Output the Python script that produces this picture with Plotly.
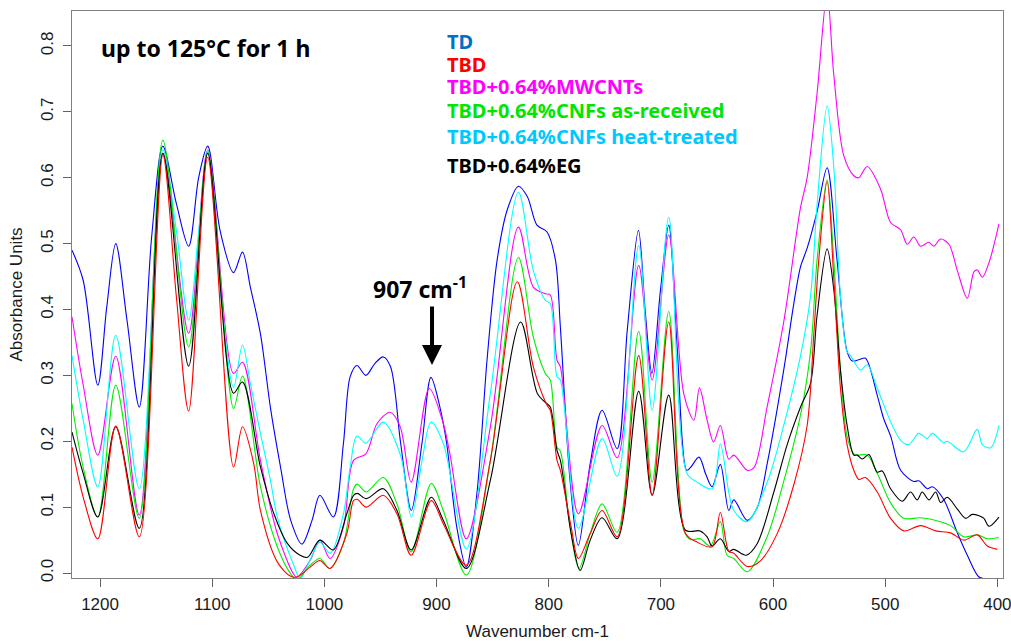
import plotly.graph_objects as go

# ---- spectra: wavenumber (cm-1) and absorbance ----
td_wn = [1225, 1215, 1202, 1194, 1186, 1176, 1165, 1154, 1144, 1132, 1121, 1112, 1104, 1093, 1081, 1073,
         1066, 1057, 1048, 1039, 1030, 1020, 1011, 1004, 992, 983, 977, 971, 963, 955, 947.5, 941, 932,
         922.5, 913, 905, 897, 891, 882, 873.5, 864, 855, 846, 837, 827, 819, 810.5, 801.6, 794, 789.6,
         781, 773.6, 763, 752.4, 739, 730, 720, 713.8, 708, 700.4, 693, 685.5, 677, 673.7, 666, 660,
         654.4, 647, 639.5, 635, 623, 614, 605, 590.5, 581.5, 575.5, 569.6, 560.7, 551.8, 543, 534,
         529.5, 523, 517.6, 507, 501.5, 495, 486.3, 474.5, 470, 462.5, 458, 448, 435.7, 426.8, 416.4,
         408, 398]
td_abs = [0.490, 0.444, 0.285, 0.404, 0.500, 0.384, 0.252, 0.510, 0.648, 0.561, 0.496, 0.601, 0.648, 0.520,
          0.456, 0.487, 0.434, 0.363, 0.250, 0.160, 0.080, 0.044, 0.080, 0.118, 0.085, 0.197, 0.298, 0.315,
          0.300, 0.318, 0.328, 0.313, 0.197, 0.095, 0.197, 0.297, 0.252, 0.197, 0.070, 0.009, 0.121, 0.323,
          0.475, 0.551, 0.587, 0.571, 0.528, 0.518, 0.475, 0.373, 0.141, 0.042, 0.166, 0.247, 0.189, 0.368,
          0.520, 0.394, 0.303, 0.429, 0.528, 0.343, 0.156, 0.160, 0.176, 0.150, 0.131, 0.165, 0.095, 0.111,
          0.080, 0.100, 0.168, 0.308, 0.409, 0.465, 0.493, 0.549, 0.615, 0.476, 0.336, 0.322, 0.324, 0.326,
          0.269, 0.235, 0.207, 0.156, 0.139, 0.140, 0.128, 0.131, 0.112, 0.061, 0.027, -0.006, -0.009, -0.009]

tbd_wn = [1225, 1215, 1202, 1186, 1165, 1144, 1132, 1121, 1104, 1081, 1073, 1063, 1057, 1042, 1030, 1024.5,
          1012.7, 1004, 995, 980, 974, 970.7, 962.7, 947.5, 935.3, 922.6, 904.7, 894, 873.5, 852, 828,
          813.7, 801.6, 798.6, 792.6, 789.6, 780, 773.6, 763, 752.4, 739, 719.8, 707.8, 693, 678, 667.8,
          654.4, 647, 639.5, 635, 623, 611, 596, 581.5, 569.6, 563.6, 559.2, 551.8, 545.9, 539.9, 534,
          528, 523.5, 517.6, 507.1, 495.2, 483.4, 468.5, 455, 441.7, 429.8, 417.9, 409, 400]
tbd_abs = [0.191, 0.115, 0.052, 0.223, 0.055, 0.634, 0.420, 0.246, 0.631, 0.161, 0.222, 0.166, 0.095, 0.017,
           -0.005, -0.006, 0.009, 0.019, 0.007, 0.060, 0.110, 0.112, 0.100, 0.118, 0.090, 0.027, 0.110, 0.075,
           0.012, 0.171, 0.442, 0.313, 0.255, 0.247, 0.171, 0.156, 0.070, 0.022, 0.060, 0.095, 0.055, 0.330,
           0.118, 0.381, 0.060, 0.047, 0.040, 0.092, 0.033, 0.030, 0.010, 0.019, 0.061, 0.134, 0.224, 0.364,
           0.476, 0.594, 0.448, 0.280, 0.195, 0.156, 0.142, 0.145, 0.123, 0.083, 0.064, 0.072, 0.064, 0.061,
           0.050, 0.058, 0.041, 0.036]

mwcnt_wn = [1225, 1215, 1202, 1186, 1165, 1144, 1121, 1104, 1081, 1073, 1057, 1042, 1027.6, 1024.5, 1012.7,
            1004, 995, 983, 974, 963, 953, 941.3, 932.4, 922.6, 906.5, 894, 888, 873.5, 852, 827, 813.7,
            803, 798.6, 792.6, 789.6, 773.6, 752.4, 739, 719.8, 707.8, 693, 679.6, 670.6, 665.6, 658.8,
            653, 647, 639.5, 635, 623, 617, 605.3, 590.5, 575.5, 569.6, 560.7, 551.8, 545.9, 536.9, 528,
            523.5, 516.1, 504.2, 495.2, 486.3, 480.4, 474.5, 468.5, 461.1, 456.6, 450.6, 443.2, 435.7,
            426.8, 420.9, 417.9, 413.4, 407.5, 398.6]
mwcnt_abs = [0.389, 0.285, 0.179, 0.329, 0.088, 0.637, 0.364, 0.642, 0.303, 0.320, 0.171, 0.060, -0.001,
             -0.006, 0.019, 0.050, 0.022, 0.070, 0.171, 0.181, 0.227, 0.244, 0.222, 0.138, 0.280, 0.227, 0.180,
             0.052, 0.222, 0.525, 0.434, 0.424, 0.422, 0.323, 0.313, 0.090, 0.224, 0.175, 0.467, 0.293, 0.513,
             0.272, 0.232, 0.281, 0.232, 0.199, 0.224, 0.173, 0.179, 0.156, 0.160, 0.252, 0.381, 0.555, 0.600,
             0.729, 0.880, 0.757, 0.633, 0.603, 0.600, 0.617, 0.583, 0.532, 0.521, 0.499, 0.510, 0.496, 0.502,
             0.496, 0.507, 0.499, 0.459, 0.417, 0.457, 0.460, 0.449, 0.471, 0.530]

cnf_ar_wn = [1225, 1215, 1202, 1186, 1165, 1144, 1121, 1104, 1081, 1073, 1057, 1042, 1030.5, 1024.5, 1012.7,
             1004, 995, 983, 974, 970.7, 962.7, 947.5, 935.3, 922.6, 904.7, 894, 873.5, 852, 827, 813.7, 803,
             798.6, 792.6, 789.6, 781, 773, 763, 752.4, 739, 719.8, 707.8, 693, 679.6, 673.7, 665, 656, 647,
             641, 635, 623, 605.3, 590.5, 575.5, 566.6, 560.7, 551.8, 545.9, 539.9, 534, 528, 525, 516, 507,
             495, 483.4, 468.5, 450.6, 441.7, 429.8, 417.9, 409, 398.6]
cnf_ar_abs = [0.257, 0.160, 0.085, 0.285, 0.083, 0.657, 0.343, 0.639, 0.250, 0.299, 0.131, 0.040, 0.000,
              -0.010, 0.012, 0.022, 0.007, 0.045, 0.128, 0.135, 0.123, 0.145, 0.105, 0.032, 0.136, 0.095,
              -0.003, 0.171, 0.479, 0.358, 0.303, 0.293, 0.191, 0.185, 0.070, 0.007, 0.060, 0.105, 0.062,
              0.367, 0.138, 0.397, 0.065, 0.051, 0.052, 0.041, 0.078, 0.027, 0.022, 0.002, 0.055, 0.139, 0.240,
              0.336, 0.476, 0.597, 0.476, 0.308, 0.207, 0.181, 0.179, 0.179, 0.151, 0.106, 0.083, 0.084, 0.078,
              0.072, 0.055, 0.058, 0.052, 0.054]

cnf_ht_wn = [1225, 1215, 1202, 1186, 1165, 1144, 1132, 1121, 1112, 1104, 1093, 1081, 1073, 1066, 1057, 1048,
             1042, 1028, 1021.6, 1012.7, 1004, 994.8, 983, 977, 971, 963, 947.5, 932, 922.5, 913, 905, 894,
             873.5, 852, 827, 813.7, 803, 798.6, 792.6, 789.6, 773.6, 752.4, 739, 719.8, 707.8, 693, 676.7,
             667.8, 654.4, 647, 639.5, 635, 623, 605, 590.5, 575.5, 566.6, 560.7, 551.8, 545.9, 539.9, 534,
             530.9, 522, 516, 507, 495, 486, 479, 470, 462.5, 458, 448, 444.7, 430, 418, 413.4, 406, 398.6]
cnf_ht_abs = [0.330, 0.232, 0.131, 0.361, 0.128, 0.642, 0.520, 0.384, 0.520, 0.642, 0.434, 0.282, 0.346,
              0.288, 0.212, 0.140, 0.085, 0.015, -0.008, 0.020, 0.047, 0.030, 0.090, 0.161, 0.208, 0.197,
              0.229, 0.178, 0.085, 0.170, 0.229, 0.197, 0.037, 0.273, 0.578, 0.459, 0.414, 0.409, 0.298,
              0.293, 0.068, 0.204, 0.147, 0.497, 0.247, 0.540, 0.151, 0.138, 0.128, 0.196, 0.123, 0.095,
              0.078, 0.139, 0.224, 0.330, 0.420, 0.560, 0.709, 0.617, 0.420, 0.336, 0.330, 0.308, 0.316,
              0.280, 0.229, 0.201, 0.195, 0.212, 0.204, 0.212, 0.198, 0.200, 0.184, 0.218, 0.195, 0.190, 0.224]

eg_wn = [1225, 1215, 1202, 1186, 1165, 1144, 1121, 1104, 1081, 1073, 1057, 1045, 1033, 1021.6, 1015, 1004,
         992, 980, 974, 970.7, 962.7, 947.5, 935.3, 922.6, 904.7, 894, 873.5, 852, 825, 810, 801.6, 798.6,
         792.6, 789.6, 780, 772, 763, 752.4, 739, 719.8, 707.8, 693, 678, 665, 658.8, 654.4, 647, 639.5, 635,
         624, 614.3, 599.3, 587.4, 575.5, 566.6, 560.7, 551.8, 545.9, 539.9, 534, 528, 525, 520.5, 514.6,
         507.1, 502.7, 495.2, 484.8, 477.4, 471.5, 467, 461, 455, 450.6, 444.7, 435.7, 428.3, 422.4, 416.4,
         412, 407.5, 398.6]
eg_abs = [0.214, 0.151, 0.085, 0.222, 0.068, 0.637, 0.314, 0.637, 0.273, 0.290, 0.161, 0.090, 0.045, 0.027,
          0.024, 0.050, 0.035, 0.090, 0.118, 0.121, 0.113, 0.128, 0.095, 0.035, 0.115, 0.080, 0.007, 0.141,
          0.381, 0.272, 0.257, 0.252, 0.186, 0.171, 0.060, 0.004, 0.050, 0.084, 0.052, 0.276, 0.118, 0.270,
          0.065, 0.064, 0.055, 0.041, 0.052, 0.033, 0.036, 0.027, 0.044, 0.123, 0.195, 0.252, 0.288, 0.392,
          0.492, 0.431, 0.308, 0.224, 0.179, 0.179, 0.173, 0.180, 0.153, 0.155, 0.128, 0.109, 0.123, 0.111,
          0.123, 0.111, 0.123, 0.107, 0.115, 0.097, 0.083, 0.089, 0.087, 0.083, 0.071, 0.085]

series = [
    ("TD", td_wn, td_abs, "#0000FF"),
    ("TBD+0.64%MWCNTs", mwcnt_wn, mwcnt_abs, "#FF00FF"),
    ("TBD+0.64%CNFs heat-treated", cnf_ht_wn, cnf_ht_abs, "#00FFFF"),
    ("TBD+0.64%CNFs as-received", cnf_ar_wn, cnf_ar_abs, "#00EE00"),
    ("TBD+0.64%EG", eg_wn, eg_abs, "#000000"),
    ("TBD", tbd_wn, tbd_abs, "#FF0000"),
]

# text legend: label and colour, top to bottom
legend_labels = ["TD", "TBD", "TBD+0.64%MWCNTs", "TBD+0.64%CNFs as-received",
                 "TBD+0.64%CNFs heat-treated", "TBD+0.64%EG"]
legend_colors = ["#0070C0", "#FF0000", "#FF00FF", "#00E600", "#00C8FF", "#000000"]
legend_y = [0.946, 0.905, 0.867, 0.824, 0.778, 0.727]

fig = go.Figure()
for name, wn, ab, col in series:
    fig.add_trace(go.Scatter(x=wn, y=ab, mode="lines", name=name,
                             line=dict(color=col, width=1.1, shape="spline", smoothing=0.9),
                             showlegend=False, hoverinfo="skip"))

axis_font = dict(family="Liberation Sans, Arial, sans-serif", size=17, color="#1a1a1a")
fig.update_xaxes(range=[1225, 395], tickmode="array", tickvals=[1200, 1100, 1000, 900, 800, 700, 600, 500, 400],
                 ticks="outside", ticklen=8, tickcolor="#606060", showline=True, linecolor="#808080",
                 linewidth=1, mirror=True, showgrid=False, zeroline=False, tickfont=axis_font,
                 ticklabeloverflow="allow", ticklabelstandoff=3, automargin=False,
                 title=dict(text="Wavenumber cm-1", font=axis_font, standoff=12))
fig.update_yaxes(range=[-0.0075, 0.853], tickmode="array", tickvals=[0, 0.1, 0.2, 0.3, 0.4, 0.5, 0.6, 0.7, 0.8],
                 ticktext=["0.0", "0.1", "0.2", "0.3", "0.4", "0.5", "0.6", "0.7", "0.8"],
                 tickangle=-90, ticks="outside", ticklen=8, tickcolor="#606060", showline=True,
                 linecolor="#808080", linewidth=1, mirror=True, showgrid=False, zeroline=False,
                 tickfont=axis_font, ticklabelstandoff=3, automargin=False,
                 title=dict(text="Absorbance Units", font=axis_font, standoff=11))

bold = "Noto Sans, Open Sans, sans-serif"
for lab, col, yy in zip(legend_labels, legend_colors, legend_y):
    fig.add_annotation(x=0.401, y=yy, xref="paper", yref="paper", text="<b>" + lab + "</b>",
                       showarrow=False, xanchor="left", yanchor="middle",
                       font=dict(family=bold, size=20, color=col))

fig.add_annotation(x=0.029, y=0.935, xref="paper", yref="paper", text="<b>up to 125°C for 1 h</b>",
                   showarrow=False, xanchor="left", yanchor="middle",
                   font=dict(family=bold, size=23, color="#000000"))

fig.add_annotation(x=0.3743, y=0.511, xref="paper", yref="paper", text="<b>907 cm<sup>-1</sup></b>",
                   showarrow=False, xanchor="center", yanchor="middle",
                   font=dict(family=bold, size=23, color="#000000"))
fig.add_annotation(x=0.3867, y=0.3757, xref="paper", yref="paper", text="", showarrow=True,
                   ax=0, ay=-60, arrowhead=2, arrowsize=1, arrowwidth=4, arrowcolor="#000000", standoff=0)

fig.update_layout(width=1011, height=641, margin=dict(l=72, r=8, t=11, b=63),
                  plot_bgcolor="white", paper_bgcolor="white")

fig.write_html("out.html")
